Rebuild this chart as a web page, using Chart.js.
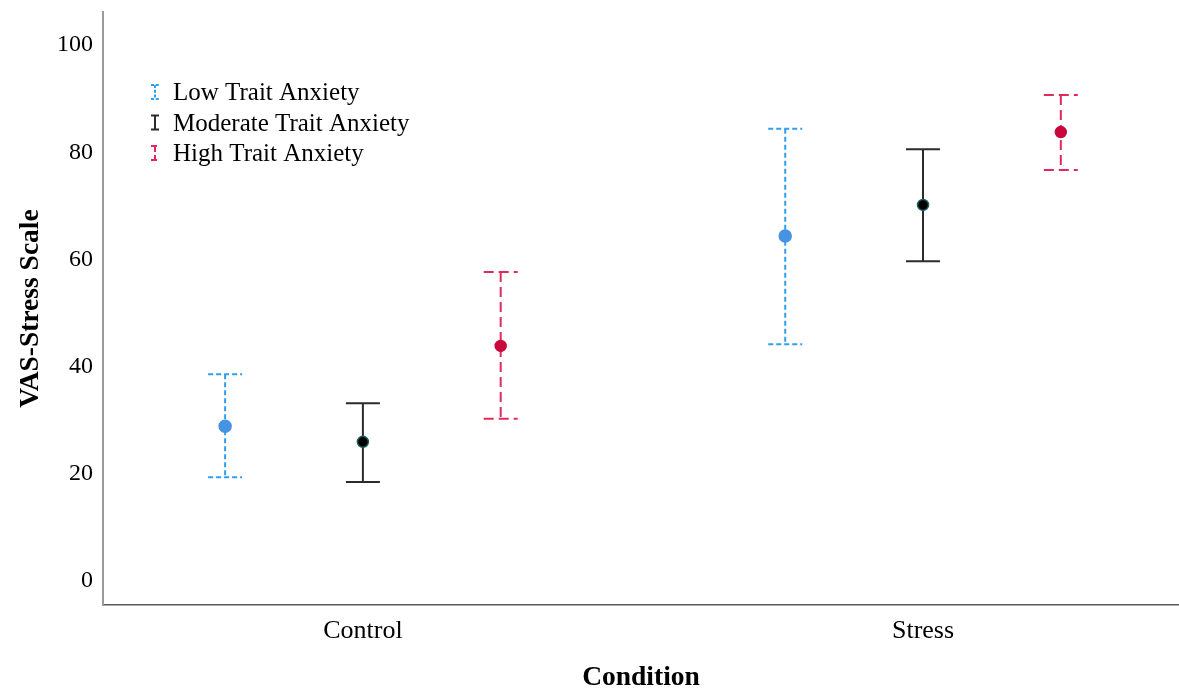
<!DOCTYPE html>
<html>
<head>
<meta charset="utf-8">
<title>VAS-Stress by condition and trait anxiety</title>
<script src="https://cdn.jsdelivr.net/npm/chart.js@4.4.1/dist/chart.umd.min.js"></script>
<style>
  html, body { margin: 0; padding: 0; background: #fff; overflow: hidden; }
  canvas { display: block; }
</style>
</head>
<body>
<canvas id="chart" width="1179" height="692"></canvas>
<script>
// Conditions on the x axis, trait anxiety groups as series
const conditions = ['Control', 'Stress'];
const groups = ['Low Trait Anxiety', 'Moderate Trait Anxiety', 'High Trait Anxiety'];

// Means and error bar limits per group (Control, Stress)
const lowMean = [28.5, 64.0];
const lowUpper = [38.2, 84.0];
const lowLower = [19.0, 43.8];

const modMean = [25.6, 69.8];
const modUpper = [32.8, 80.2];
const modLower = [18.1, 59.3];

const highMean = [43.5, 83.4];
const highUpper = [57.3, 90.3];
const highLower = [29.9, 76.3];

const yTicks = [0, 20, 40, 60, 80, 100];

// Horizontal spread of the groups inside a condition
const groupOffset = [-0.246, 0, 0.246];

const styles = [
  { line: '#2f9fef', dot: '#4693e3', edge: '#4693e3', dash: [5, 3] },
  { line: '#2b2b2b', dot: '#000000', edge: '#1f5c5c', dash: [] },
  { line: '#e02a5a', dot: '#c8073d', edge: '#c8073d', dash: [10, 5] }
];

const serif = "'Liberation Serif', 'Times New Roman', serif";

function buildPoints(means, upper, lower, g) {
  return means.map((m, i) => ({ x: i + groupOffset[g], y: m, hi: upper[i], lo: lower[i] }));
}

const series = [
  buildPoints(lowMean, lowUpper, lowLower, 0),
  buildPoints(modMean, modUpper, modLower, 1),
  buildPoints(highMean, highUpper, highLower, 2)
];

// Vertical whiskers with caps, drawn under the mean markers
const errorBars = {
  id: 'errorBars',
  beforeDatasetsDraw(chart) {
    const { ctx, scales: { x, y } } = chart;
    const cap = 17;
    chart.data.datasets.forEach((ds, i) => {
      const st = styles[i];
      ctx.save();
      ctx.strokeStyle = st.line;
      ctx.lineWidth = 2;
      ctx.setLineDash(st.dash);
      ds.data.forEach(p => {
        const px = x.getPixelForValue(p.x);
        const top = y.getPixelForValue(p.hi);
        const bot = y.getPixelForValue(p.lo);
        ctx.beginPath();
        ctx.moveTo(px, top);
        ctx.lineTo(px, bot);
        ctx.stroke();
        ctx.beginPath();
        ctx.moveTo(px - cap, top);
        ctx.lineTo(px + cap, top);
        ctx.stroke();
        ctx.beginPath();
        ctx.moveTo(px - cap, bot);
        ctx.lineTo(px + cap, bot);
        ctx.stroke();
      });
      ctx.restore();
    });
  }
};

// Legend in the upper left corner of the plot, with small whisker icons
const whiskerLegend = {
  id: 'whiskerLegend',
  afterDraw(chart) {
    const { ctx, chartArea } = chart;
    const x0 = chartArea.left + 52;
    const y0 = chartArea.top + 80;
    ctx.save();
    ctx.font = '25px ' + serif;
    ctx.textBaseline = 'middle';
    ctx.fillStyle = '#000';
    groups.forEach((label, i) => {
      const st = styles[i];
      const cy = y0 + i * 30.5;
      ctx.strokeStyle = st.line;
      ctx.lineWidth = 2;
      ctx.setLineDash(st.dash.map(d => d * 0.6));
      ctx.beginPath();
      ctx.moveTo(x0, cy - 7); ctx.lineTo(x0, cy + 7);
      ctx.moveTo(x0 - 4, cy - 7); ctx.lineTo(x0 + 4, cy - 7);
      ctx.moveTo(x0 - 4, cy + 7); ctx.lineTo(x0 + 4, cy + 7);
      ctx.stroke();
      ctx.setLineDash([]);
      ctx.fillText(label, x0 + 18, cy + 1.5);
    });
    ctx.restore();
  }
};

const ctx = document.getElementById('chart').getContext('2d');

new Chart(ctx, {
  type: 'scatter',
  data: {
    datasets: groups.map((g, i) => ({
      label: g,
      data: series[i],
      pointRadius: i === 0 ? 6 : 5.5,
      pointBackgroundColor: styles[i].dot,
      pointBorderColor: styles[i].edge,
      pointBorderWidth: 1.5,
      showLine: false
    }))
  },
  options: {
    responsive: false,
    animation: false,
    devicePixelRatio: 1,
    layout: { autoPadding: false, padding: { top: 12, right: 0, bottom: 0, left: 0 } },
    plugins: {
      legend: { display: false },
      tooltip: { enabled: false }
    },
    scales: {
      x: {
        type: 'linear',
        min: -0.464,
        max: 1.457,
        afterBuildTicks: s => { s.ticks = conditions.map((c, i) => ({ value: i })); },
        afterFit: s => { s.height = 87; s.paddingLeft = 0; s.paddingRight = 0; },
        grid: { display: false, drawTicks: false },
        border: { display: true, color: '#5a5a5a', width: 1.5 },
        ticks: {
          padding: 11,
          color: '#000',
          font: { family: serif, size: 26 },
          callback: v => conditions[v]
        },
        title: {
          display: true,
          text: 'Condition',
          color: '#000',
          font: { family: serif, size: 27.5, weight: 'bold', lineHeight: 1 },
          padding: { top: 0, bottom: 0 }
        }
      },
      y: {
        min: -4.85,
        max: 105.8,
        afterBuildTicks: s => { s.ticks = yTicks.map(v => ({ value: v })); },
        afterFit: s => { s.width = 103; s.paddingTop = 0; s.paddingBottom = 0; },
        grid: { display: false, drawTicks: false },
        border: { display: true, color: '#9a9a9a', width: 2 },
        ticks: {
          padding: 10,
          labelOffset: 2,
          color: '#000',
          font: { family: serif, size: 24 }
        },
        title: {
          display: true,
          text: 'VAS-Stress Scale',
          color: '#000',
          font: { family: serif, size: 27.5, weight: 'bold', lineHeight: 1 },
          padding: { top: 17, bottom: 0 }
        }
      }
    }
  },
  plugins: [errorBars, whiskerLegend]
});
</script>
</body>
</html>
